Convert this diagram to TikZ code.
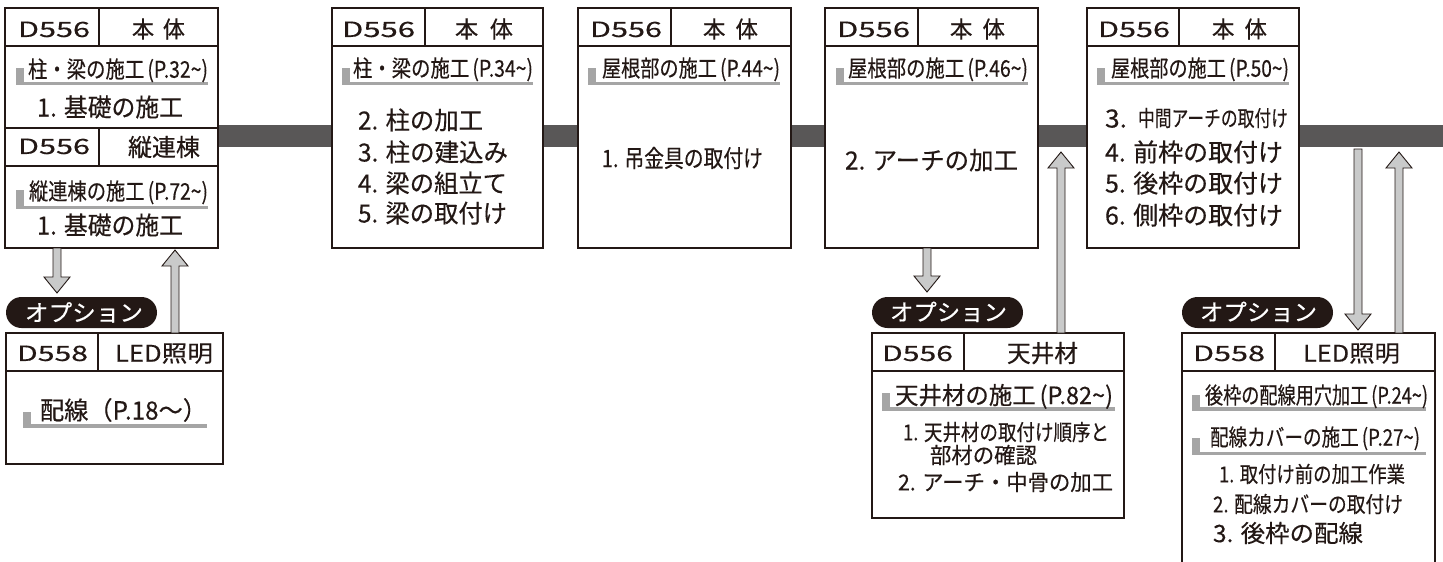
\documentclass[tikz,border=0pt]{standalone}
\usepackage{fontspec}
\setmainfont{Noto Sans CJK JP}[FakeBold=0.35]
\usepackage{graphicx}
\usetikzlibrary{calc}
\definecolor{ink}{HTML}{231815}
\definecolor{barc}{HTML}{595757}
\definecolor{arrc}{HTML}{C9CACA}
\definecolor{lmk}{HTML}{A5A5A5}
\newcommand{\tld}{\char"7E\relax}
\newcommand{\Txt}[6]{\node[tx,font=\fontsize{#5}{#5}\selectfont,text height={#5*0.88pt},text depth={#5*0.12pt}] (#1) at (#2,#4) {\resizebox{#3pt}{\height}{#6}};}
\newcommand{\PTxt}[4]{\node[tx,text=white,font=\fontsize{23}{23}\selectfont,text height=20.24pt,text depth=2.76pt] (#1) at (#2,#4) {\resizebox{#3pt}{\height}{オプション}};}
\newcommand{\Lmk}[4]{\fill[lmk] (#1,#3) rectangle (#1+7.5,#4+1.6); \fill[lmk] (#1,#4-1.6) rectangle (#2,#4+1.6);}
\newcommand{\UpA}[2]{\draw[barrow] let \p1=(#1), \p2=(#2) in (\x1-4pt,\y1) -- (\x1-4pt,\y2-16pt) -- (\x1-13pt,\y2-16pt) -- (\x1,\y2) -- (\x1+13pt,\y2-16pt) -- (\x1+4pt,\y2-16pt) -- (\x1+4pt,\y1) -- cycle;}
\newcommand{\DnA}[2]{\draw[barrow] let \p1=(#1), \p2=(#2) in (\x1-4pt,\y1) -- (\x1-4pt,\y2+16pt) -- (\x1-13pt,\y2+16pt) -- (\x1,\y2) -- (\x1+13pt,\y2+16pt) -- (\x1+4pt,\y2+16pt) -- (\x1+4pt,\y1) -- cycle;}
\begin{document}
\begin{tikzpicture}[x=1pt,y=-1pt,
  tx/.style={anchor=west,inner sep=0pt,outer sep=0pt,text=ink},
  box/.style={draw=ink,line width=1.3pt,fill=white,inner sep=0pt,outer sep=0pt,anchor=north west},
  bl/.style={draw=ink,line width=1.3pt},
  barrow/.style={fill=arrc,draw=ink,line width=0.9pt,line join=miter},
  pill/.style={fill=ink,rounded corners=15.5pt,inner sep=0pt,outer sep=0pt,anchor=north west,minimum width=151pt,minimum height=31pt}]
\useasboundingbox (0,0) rectangle (1443,562);
\clip (0,0) rectangle (1443,562);
% timeline bar
\fill[barc] (218,125) rectangle (1443,147);
% boxes
\node[box,minimum width=213pt,minimum height=240pt] (b1) at (5,8) {};
\node[box,minimum width=211pt,minimum height=240pt] (b2) at (332,8) {};
\node[box,minimum width=213pt,minimum height=240pt] (b3) at (578,8) {};
\node[box,minimum width=213pt,minimum height=240pt] (b4) at (825,8) {};
\node[box,minimum width=212pt,minimum height=240pt] (b5) at (1087,8) {};
\node[box,minimum width=217pt,minimum height=131pt] (b6) at (6,333) {};
\node[box,minimum width=252pt,minimum height=185pt] (b7) at (872,333) {};
\node[box,minimum width=253pt,minimum height=250pt] (b8) at (1182,333) {};
% header lines
\draw[bl] (5,46) -- (218,46) (5,128) -- (218,128) (5,166) -- (218,166) (99,8) -- (99,46) (99,128) -- (99,166);
\draw[bl] (332,46) -- (543,46) (425,8) -- (425,46);
\draw[bl] (578,46) -- (791,46) (671,8) -- (671,46);
\draw[bl] (825,46) -- (1038,46) (918,8) -- (918,46);
\draw[bl] (1087,46) -- (1299,46) (1179,8) -- (1179,46);
\draw[bl] (6,371) -- (223,371) (98,333) -- (98,371);
\draw[bl] (872,371) -- (1124,371) (964,333) -- (964,371);
\draw[bl] (1182,371) -- (1435,371) (1275,333) -- (1275,371);
% L marks
\Lmk{16}{208}{68}{83.5}
\Lmk{16}{208}{190}{207.5}
\Lmk{342}{533}{68}{83.5}
\Lmk{588}{780}{68}{83.5}
\Lmk{836}{1028}{68}{83.5}
\Lmk{1097}{1289}{68}{83.5}
\Lmk{23}{207}{412}{426}
\Lmk{882}{1115}{393}{409}
\Lmk{1192}{1426}{395}{409}
\Lmk{1192}{1426}{438}{453.5}
% pills
\node[pill] (p1) at (6,297) {};
\node[pill] (p2) at (872,297) {};
\node[pill] (p3) at (1182,297) {};
\PTxt{p1t}{25}{118}{312.5}
\PTxt{p2t}{890}{117}{312}
\PTxt{p3t}{1200}{117}{312}
% arrows
\coordinate (a1s) at (57,248); \coordinate (a1e) at (57,293);
\coordinate (a2s) at (175,333); \coordinate (a2e) at (175,250);
\coordinate (a3s) at (927,248); \coordinate (a3e) at (927,292);
\coordinate (a4s) at (1061,333); \coordinate (a4e) at (1061,152);
\coordinate (a5s) at (1358,149); \coordinate (a5e) at (1358,330);
\coordinate (a6s) at (1399,333); \coordinate (a6e) at (1399,152);
\DnA{a1s}{a1e}
\UpA{a2s}{a2e}
\DnA{a3s}{a3e}
\UpA{a4s}{a4e}
\DnA{a5s}{a5e}
\UpA{a6s}{a6e}
% box 1
\Txt{t1a}{18}{72}{29}{21}{D556}
\Txt{t1b}{132}{53}{29}{23}{本\hspace{0.4em}体}
\Txt{s1}{28}{180}{69}{23}{柱・梁の施工\,(P.32\tld)}
\Txt{i1}{37}{146}{107}{25}{1. 基礎の施工}
\Txt{t1c}{18}{72}{146}{21}{D556}
\Txt{t1d}{128}{72}{147}{24}{縦連棟}
\Txt{s1b}{29}{179}{191}{23}{縦連棟の施工\,(P.72\tld)}
\Txt{i1b}{37}{146}{225}{25}{1. 基礎の施工}
% box 2
\Txt{t2a}{342}{73}{29}{21}{D556}
\Txt{t2b}{455}{58}{29}{23}{本\hspace{0.5em}体}
\Txt{s2}{353}{180}{68}{23}{柱・梁の施工\,(P.34\tld)}
\Txt{i2a}{358}{125}{120}{25}{2. 柱の加工}
\Txt{i2b}{358}{150}{152}{25}{3. 柱の建込み}
\Txt{i2c}{358}{149}{183}{25}{4. 梁の組立て}
\Txt{i2d}{358}{149}{213}{25}{5. 梁の取付け}
% box 3
\Txt{t3a}{590}{72}{29}{21}{D556}
\Txt{t3b}{703}{55}{29}{23}{本\hspace{0.45em}体}
\Txt{s3}{602}{178}{68}{23}{屋根部の施工\,(P.44\tld)}
\Txt{i3}{602}{161}{158}{24}{1. 吊金具の取付け}
% box 4
\Txt{t4a}{837}{73}{29}{21}{D556}
\Txt{t4b}{950}{55}{29}{23}{本\hspace{0.45em}体}
\Txt{s4}{848}{180}{68}{23}{屋根部の施工\,(P.46\tld)}
\Txt{i4}{845}{173}{160}{25}{2. アーチの加工}
% box 5
\Txt{t5a}{1098}{72}{29}{21}{D556}
\Txt{t5b}{1212}{55}{29}{23}{本\hspace{0.45em}体}
\Txt{s5}{1111}{178}{68}{23}{屋根部の施工\,(P.50\tld)}
\Txt{i5a}{1105}{22}{118}{25}{3.}
\Txt{i5e}{1138}{150}{118}{22}{中間アーチの取付け}
\Txt{i5b}{1105}{178}{152}{25}{4. 前枠の取付け}
\Txt{i5c}{1105}{178}{183}{25}{5. 後枠の取付け}
\Txt{i5d}{1105}{178}{215}{25}{6. 側枠の取付け}
% box 6
\Txt{t6a}{17}{71}{353}{21}{D558}
\Txt{t6b}{115}{98}{353}{23}{LED照明}
\Txt{s6}{40}{167}{410}{25}{配線（P.18〜）}
% box 7
\Txt{t7a}{882}{71}{353}{21}{D556}
\Txt{t7b}{1007}{71}{353}{24}{天井材}
\Txt{s7}{895}{218}{395}{24}{天井材の施工\,(P.82\tld)}
\Txt{i7a}{903}{206}{432}{22}{1. 天井材の取付け順序と}
\Txt{i7b}{930}{107}{455}{22}{部材の確認}
\Txt{i7c}{898}{215}{482}{22}{2. アーチ・中骨の加工}
% box 8
\Txt{t8a}{1193}{72}{353}{21}{D558}
\Txt{t8b}{1303}{97}{353}{23}{LED照明}
\Txt{s8a}{1205}{223}{395}{23}{後枠の配線用穴加工\,(P.24\tld)}
\Txt{s8b}{1210}{210}{437}{23}{配線カバーの施工\,(P.27\tld)}
\Txt{i8a}{1219}{186}{474}{22}{1. 取付け前の加工作業}
\Txt{i8b}{1213}{190}{504}{22}{2. 配線カバーの取付け}
\Txt{i8c}{1213}{150}{533}{24}{3. 後枠の配線}
\end{tikzpicture}
\end{document}
